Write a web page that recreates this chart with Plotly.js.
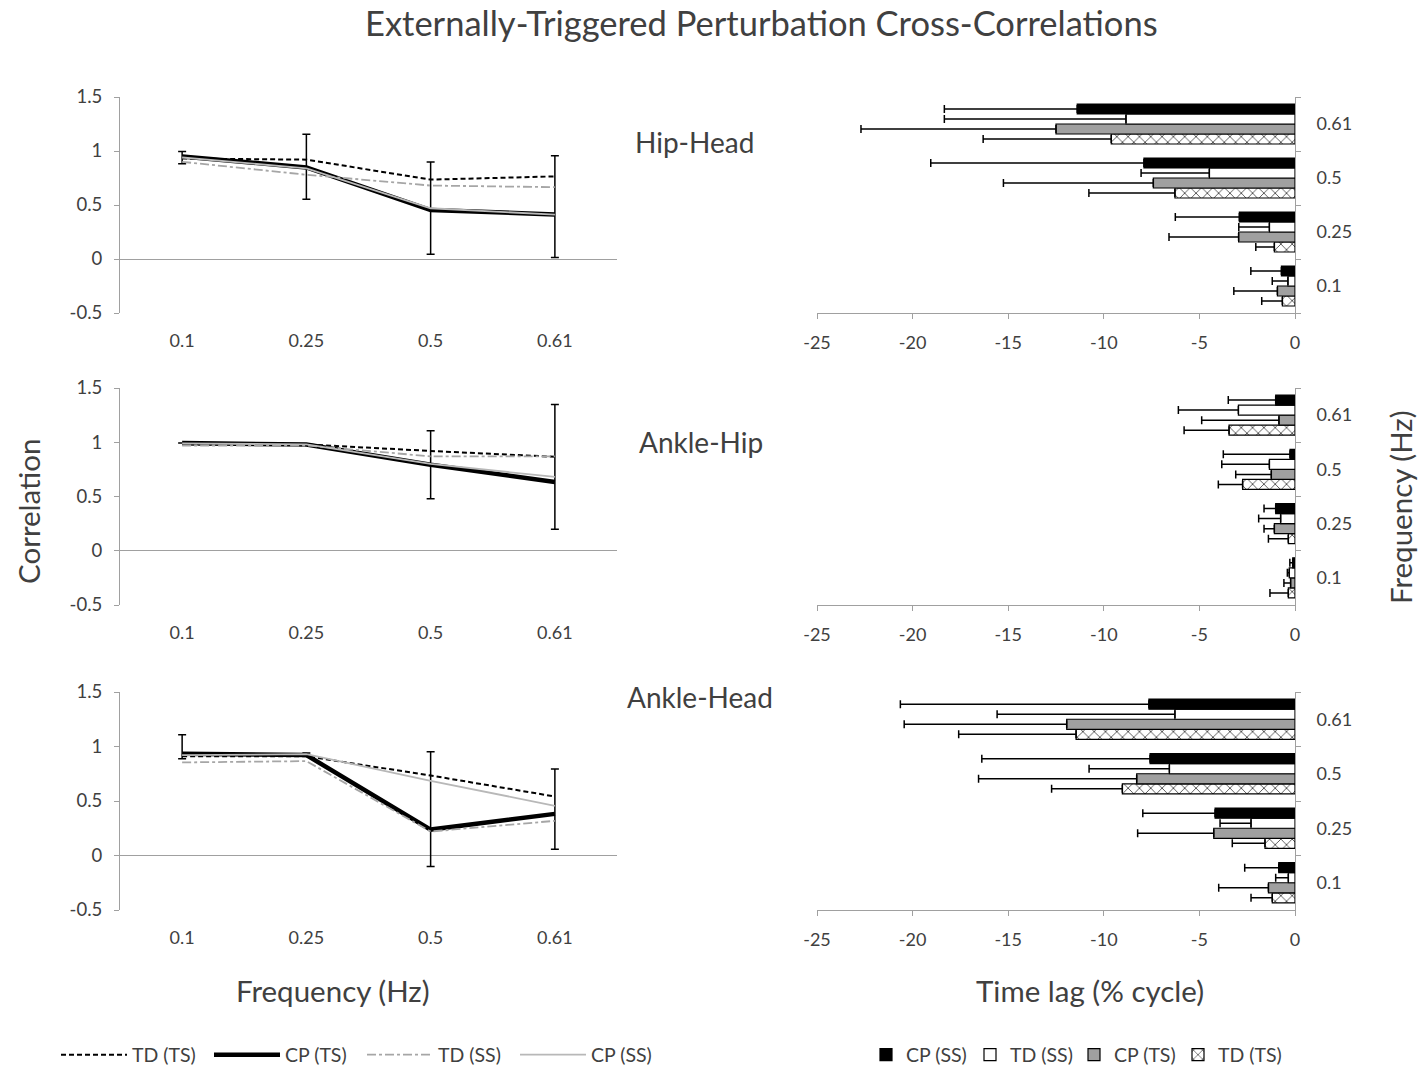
<!DOCTYPE html>
<html>
<head>
<meta charset="utf-8">
<script src="https://cdn.plot.ly/plotly-3.0.1.min.js"></script>
<style>html,body{margin:0;padding:0;background:#fff;overflow:hidden;}#chart{width:1419px;height:1071px;}</style>
</head>
<body>
<div id="chart"></div>
<script>
// ---- categories / ticks ----
const freqCats = ['0.1', '0.25', '0.5', '0.61'];
const corrTickVals = [-0.5, 0, 0.5, 1, 1.5];
const corrTickText = ['-0.5', '0', '0.5', '1', '1.5'];
const lagTickVals = [-25, -20, -15, -10, -5, 0];
const lagTickText = ['-25', '-20', '-15', '-10', '-5', '0'];
const panelNames = ['Hip-Head', 'Ankle-Hip', 'Ankle-Head'];

// ---- correlation (line) data ----
const hipHead_TD_TS = [0.93, 0.92, 0.735, 0.765];
const hipHead_CP_TS = [0.949, 0.848, 0.453, 0.413];
const hipHead_TD_SS = [0.90, 0.78, 0.68, 0.665];
const hipHead_CP_SS = [0.94, 0.84, 0.47, 0.41];
const hipHead_errPlus = [0.046, 0.306, 0.444, 0.542];
const hipHead_errMinus = [0.068, 0.294, 0.408, 0.399];

const ankleHip_TD_TS = [0.98, 0.98, 0.92, 0.866];
const ankleHip_CP_TS = [0.992, 0.979, 0.793, 0.633];
const ankleHip_TD_SS = [0.97, 0.97, 0.87, 0.87];
const ankleHip_CP_SS = [0.99, 0.98, 0.80, 0.68];
const ankleHip_errPlus = [0, 0, 0.312, 0.714];
const ankleHip_errMinus = [0, 0, 0.313, 0.435];

const ankleHead_TD_TS = [0.91, 0.91, 0.734, 0.541];
const ankleHead_CP_TS = [0.933, 0.921, 0.238, 0.382];
const ankleHead_TD_SS = [0.854, 0.866, 0.22, 0.318];
const ankleHead_CP_SS = [0.92, 0.93, 0.685, 0.456];
const ankleHead_errPlus = [0.175, 0.02, 0.714, 0.411];
const ankleHead_errMinus = [0.046, 0.01, 0.34, 0.325];

// ---- time lag (bar) data, % cycle ----
const hipHeadLag_CP_SS = [-0.71, -2.91, -7.9, -11.39];
const hipHeadLag_TD_SS = [-0.37, -1.34, -4.48, -8.84];
const hipHeadLag_CP_TS = [-0.92, -2.95, -7.41, -12.5];
const hipHeadLag_TD_TS = [-0.66, -1.08, -6.28, -9.61];
const hipHeadLagErr_CP_SS = [1.6, 3.35, 11.15, 6.95];
const hipHeadLagErr_TD_SS = [0.82, 1.6, 3.57, 9.5];
const hipHeadLagErr_CP_TS = [2.28, 3.64, 7.84, 10.2];
const hipHeadLagErr_TD_TS = [1.08, 0.97, 4.5, 6.7];

const ankleHipLag_CP_SS = [-0.12, -1.01, -0.26, -1.01];
const ankleHipLag_TD_SS = [-0.3, -0.75, -1.34, -2.96];
const ankleHipLag_CP_TS = [-0.23, -1.08, -1.24, -0.84];
const ankleHipLag_TD_TS = [-0.35, -0.35, -2.74, -3.45];
const ankleHipLagErr_CP_SS = [0.15, 0.61, 3.49, 2.48];
const ankleHipLagErr_TD_SS = [0.1, 1.15, 2.49, 3.14];
const ankleHipLagErr_CP_TS = [0.35, 0.54, 1.86, 4.04];
const ankleHipLagErr_TD_TS = [0.96, 1.04, 1.27, 2.35];

const ankleHeadLag_CP_SS = [-0.85, -4.18, -7.58, -7.64];
const ankleHeadLag_TD_SS = [-0.35, -2.3, -6.57, -6.28];
const ankleHeadLag_CP_TS = [-1.39, -4.25, -8.28, -11.94];
const ankleHeadLag_TD_TS = [-1.19, -1.57, -9.03, -11.45];
const ankleHeadLagErr_CP_SS = [1.78, 3.78, 8.8, 13.0];
const ankleHeadLagErr_TD_SS = [0.66, 1.62, 4.2, 9.3];
const ankleHeadLagErr_CP_TS = [2.6, 3.98, 8.27, 8.5];
const ankleHeadLagErr_TD_TS = [1.11, 1.71, 3.7, 6.14];

// ---- build ----
const FONT = 'Lato, "Open Sans", sans-serif';
const TXT = '#404040';
const AX = '#a0a0a0';
const W = 1419, H = 1071;
const TICK = 18;
const LEG = 19.5;

const lineSets = [
  {td_ts: hipHead_TD_TS, cp_ts: hipHead_CP_TS, td_ss: hipHead_TD_SS, cp_ss: hipHead_CP_SS, ep: hipHead_errPlus, em: hipHead_errMinus},
  {td_ts: ankleHip_TD_TS, cp_ts: ankleHip_CP_TS, td_ss: ankleHip_TD_SS, cp_ss: ankleHip_CP_SS, ep: ankleHip_errPlus, em: ankleHip_errMinus},
  {td_ts: ankleHead_TD_TS, cp_ts: ankleHead_CP_TS, td_ss: ankleHead_TD_SS, cp_ss: ankleHead_CP_SS, ep: ankleHead_errPlus, em: ankleHead_errMinus}
];
const barSets = [
  {cp_ss: hipHeadLag_CP_SS, td_ss: hipHeadLag_TD_SS, cp_ts: hipHeadLag_CP_TS, td_ts: hipHeadLag_TD_TS,
   e_cp_ss: hipHeadLagErr_CP_SS, e_td_ss: hipHeadLagErr_TD_SS, e_cp_ts: hipHeadLagErr_CP_TS, e_td_ts: hipHeadLagErr_TD_TS},
  {cp_ss: ankleHipLag_CP_SS, td_ss: ankleHipLag_TD_SS, cp_ts: ankleHipLag_CP_TS, td_ts: ankleHipLag_TD_TS,
   e_cp_ss: ankleHipLagErr_CP_SS, e_td_ss: ankleHipLagErr_TD_SS, e_cp_ts: ankleHipLagErr_CP_TS, e_td_ts: ankleHipLagErr_TD_TS},
  {cp_ss: ankleHeadLag_CP_SS, td_ss: ankleHeadLag_TD_SS, cp_ts: ankleHeadLag_CP_TS, td_ts: ankleHeadLag_TD_TS,
   e_cp_ss: ankleHeadLagErr_CP_SS, e_td_ss: ankleHeadLagErr_TD_SS, e_cp_ts: ankleHeadLagErr_CP_TS, e_td_ts: ankleHeadLagErr_TD_TS}
];

const px = v => v / W;
const py = v => 1 - v / H;
const panelTop = [97, 388, 692];
const panelBot = [313, 605, 910];
const leftDom = [px(120), px(617)];
const rightDom = [px(817), px(1295)];

const traces = [];
const layout = {
  width: W, height: H, autosize: false,
  margin: {l: 0, r: 0, t: 0, b: 0, autoexpand: false},
  paper_bgcolor: '#fff', plot_bgcolor: 'rgba(0,0,0,0)',
  font: {family: FONT, color: TXT, size: TICK},
  barmode: 'group', bargap: 0.26, bargroupgap: 0,
  showlegend: true,
  legend: {orientation: 'h', x: px(56), y: py(1055), xanchor: 'left', yanchor: 'middle',
           entrywidth: 72, entrywidthmode: 'pixels', font: {size: LEG, family: FONT, color: TXT},
           bgcolor: 'rgba(0,0,0,0)', itemwidth: 66, tracegroupgap: 0},
  legend2: {orientation: 'h', x: px(866), y: py(1055), xanchor: 'left', yanchor: 'middle',
            entrywidth: 59, entrywidthmode: 'pixels', font: {size: LEG, family: FONT, color: TXT},
            bgcolor: 'rgba(0,0,0,0)', traceorder: 'reversed', itemwidth: 30},
  annotations: [],
  shapes: []
};

for (let p = 0; p < 3; p++) {
  const li = 2 * p + 1, ri = 2 * p + 2;
  const lx = 'x' + (li === 1 ? '' : li), ly = 'y' + (li === 1 ? '' : li);
  const rx = 'x' + ri, ry = 'y' + ri;
  const dom = [py(panelBot[p]), py(panelTop[p])];
  const show = p === 0;
  const L = lineSets[p];

  traces.push({type: 'scatter', mode: 'lines', name: 'TD (TS)', x: freqCats, y: L.td_ts, xaxis: lx, yaxis: ly,
    line: {color: '#000', width: 2, dash: '5px,3px'}, showlegend: show, legend: 'legend', hoverinfo: 'skip'});
  traces.push({type: 'scatter', mode: 'lines', name: 'CP (TS)', x: freqCats, y: L.cp_ts, xaxis: lx, yaxis: ly,
    line: {color: '#000', width: 4.5},
    error_y: {type: 'data', symmetric: false, array: L.ep, arrayminus: L.em, color: '#000', thickness: 1.5, width: 4},
    showlegend: show, legend: 'legend', hoverinfo: 'skip'});
  traces.push({type: 'scatter', mode: 'lines', name: 'TD (SS)', x: freqCats, y: L.td_ss, xaxis: lx, yaxis: ly,
    line: {color: '#a6a6a6', width: 1.8, dash: 'dashdot'}, showlegend: show, legend: 'legend', hoverinfo: 'skip'});
  traces.push({type: 'scatter', mode: 'lines', name: 'CP (SS)', x: freqCats, y: L.cp_ss, xaxis: lx, yaxis: ly,
    line: {color: '#b8b8b8', width: 1.8}, showlegend: show, legend: 'legend', hoverinfo: 'skip'});

  const B = barSets[p];
  const errX = arr => ({type: 'data', symmetric: false, array: arr.map(() => 0), arrayminus: arr,
                        color: '#000', thickness: 1.5, width: 4});
  // bottom-to-top within a group: TD(TS), CP(TS), TD(SS), CP(SS)
  traces.push({type: 'bar', orientation: 'h', name: 'TD (TS)', x: B.td_ts, y: freqCats, xaxis: rx, yaxis: ry,
    marker: {color: '#fff', line: {color: '#000', width: 1.2},
             pattern: {shape: 'x', fgcolor: '#000', bgcolor: '#fff', size: 8, solidity: 0.15}},
    error_x: errX(B.e_td_ts), showlegend: show, legend: 'legend2', hoverinfo: 'skip'});
  traces.push({type: 'bar', orientation: 'h', name: 'CP (TS)', x: B.cp_ts, y: freqCats, xaxis: rx, yaxis: ry,
    marker: {color: '#a0a0a0', line: {color: '#000', width: 1.2}},
    error_x: errX(B.e_cp_ts), showlegend: show, legend: 'legend2', hoverinfo: 'skip'});
  traces.push({type: 'bar', orientation: 'h', name: 'TD (SS)', x: B.td_ss, y: freqCats, xaxis: rx, yaxis: ry,
    marker: {color: '#fff', line: {color: '#000', width: 1.2}},
    error_x: errX(B.e_td_ss), showlegend: show, legend: 'legend2', hoverinfo: 'skip'});
  traces.push({type: 'bar', orientation: 'h', name: 'CP (SS)', x: B.cp_ss, y: freqCats, xaxis: rx, yaxis: ry,
    marker: {color: '#000', line: {color: '#000', width: 1.2}},
    error_x: errX(B.e_cp_ss), showlegend: show, legend: 'legend2', hoverinfo: 'skip'});

  const lxKey = 'xaxis' + (li === 1 ? '' : li), lyKey = 'yaxis' + (li === 1 ? '' : li);
  layout[lxKey] = {domain: leftDom, anchor: ly, type: 'category', categoryorder: 'array', categoryarray: freqCats,
    range: [-0.5, 3.5], showline: false, showgrid: false, zeroline: false, ticks: '',
    ticklabelstandoff: 15, tickfont: {size: TICK, family: FONT, color: TXT}, fixedrange: true, automargin: false};
  layout[lyKey] = {domain: dom, anchor: lx, range: [-0.5, 1.5], tickvals: corrTickVals, ticktext: corrTickText,
    showline: true, linecolor: AX, linewidth: 1, ticks: 'outside', ticklen: 5, tickcolor: AX,
    showgrid: false, zeroline: true, zerolinecolor: AX, zerolinewidth: 1,
    tickfont: {size: TICK + 0.5, family: FONT, color: TXT}, ticklabelstandoff: 8, fixedrange: true, automargin: false};
  layout['xaxis' + ri] = {domain: rightDom, anchor: ry, range: [-25, 0], tickvals: lagTickVals, ticktext: lagTickText,
    showline: true, linecolor: AX, linewidth: 1, ticks: 'outside', ticklen: 5, tickcolor: AX,
    showgrid: false, zeroline: false, ticklabelstandoff: 8, tickfont: {size: TICK, family: FONT, color: TXT},
    fixedrange: true, automargin: false};
  layout['yaxis' + ri] = {domain: dom, anchor: rx, side: 'right', type: 'category', categoryorder: 'array',
    categoryarray: freqCats, range: [-0.5, 3.5], showline: true, linecolor: AX, linewidth: 1,
    ticks: 'outside', tickson: 'boundaries', ticklen: 5, tickcolor: AX, showgrid: false, zeroline: false,
    ticklabelstandoff: 17, tickfont: {size: TICK, family: FONT, color: TXT}, fixedrange: true, automargin: false};
}

const ann = (text, x, y, size, extra) => Object.assign({text: text, x: x, y: y, xref: 'paper', yref: 'paper',
  showarrow: false, xanchor: 'center', yanchor: 'middle', font: {family: FONT, size: size, color: TXT}}, extra || {});
layout.annotations.push(ann('Externally-Triggered Perturbation Cross-Correlations', px(761), py(22), 34.5));
layout.annotations.push(ann('Correlation', px(28), py(512), 29.5, {textangle: -90}));
layout.annotations.push(ann('Frequency (Hz)', px(333), py(990), 29.5));
layout.annotations.push(ann('Time lag (% cycle)', px(1090), py(990), 29.5));
layout.annotations.push(ann('Frequency (Hz)', px(1400), py(507), 29.5, {textangle: -90}));
layout.annotations.push(ann(panelNames[0], px(694), py(142), 28));
layout.annotations.push(ann(panelNames[1], px(701), py(442), 28));
layout.annotations.push(ann(panelNames[2], px(700), py(697), 28));

Plotly.newPlot('chart', traces, layout, {staticPlot: true, displayModeBar: false});
</script>
</body>
</html>
